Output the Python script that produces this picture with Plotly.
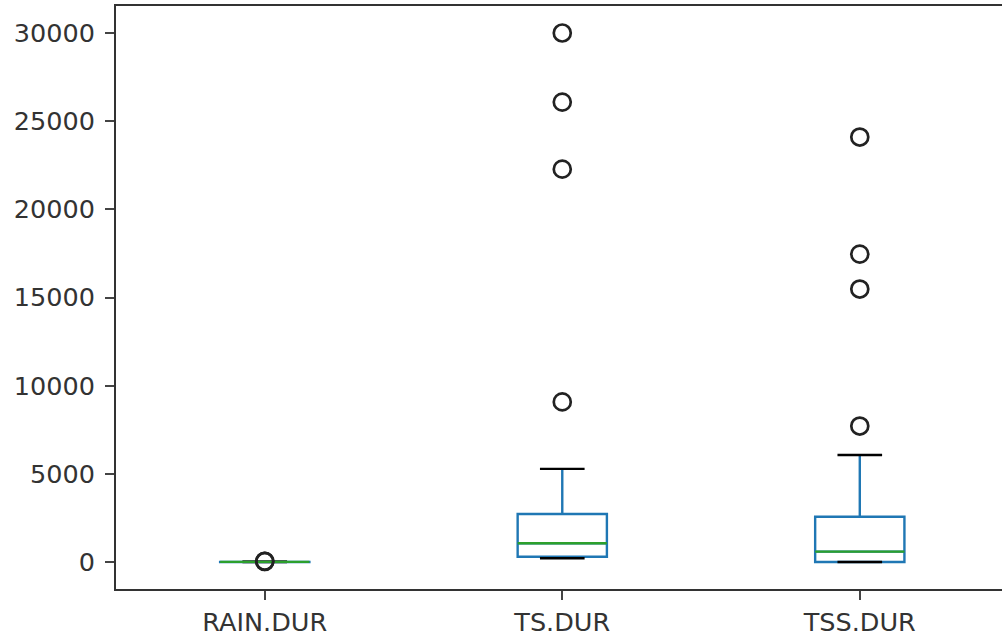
import plotly.graph_objects as go

# Box statistics for each duration column
columns = ["RAIN.DUR", "TS.DUR", "TSS.DUR"]
positions = [1, 2, 3]
q1 = [2, 300, 0]
median = [5, 1060, 590]
q3 = [8, 2720, 2570]
lower_whisker = [0, 210, 0]
upper_whisker = [15, 5280, 6070]
outliers = [
    [30, 40],
    [9080, 22280, 26080, 30000],
    [7710, 15480, 17460, 24100],
]

y_ticks = [0, 5000, 10000, 15000, 20000, 25000, 30000]

BOX_BLUE = "#1f77b4"
MEDIAN_GREEN = "#2ca02c"
BOX_WIDTH = 0.3
CAP_HALF = BOX_WIDTH / 4
LW = 2.4

fig = go.Figure()

for i, name in enumerate(columns):
    x = positions[i]
    fig.add_trace(go.Box(
        x=[x],
        q1=[q1[i]], median=[median[i]], q3=[q3[i]],
        lowerfence=[lower_whisker[i]], upperfence=[upper_whisker[i]],
        width=BOX_WIDTH,
        whiskerwidth=0,
        boxpoints=False,
        line=dict(color=BOX_BLUE, width=LW),
        fillcolor="rgba(0,0,0,0)",
        showlegend=False,
        name=name,
    ))
    # whisker caps
    for v in (lower_whisker[i], upper_whisker[i]):
        fig.add_trace(go.Scatter(
            x=[x - CAP_HALF, x + CAP_HALF], y=[v, v],
            mode="lines", line=dict(color="black", width=LW),
            showlegend=False, hoverinfo="skip",
        ))
    # median line
    fig.add_trace(go.Scatter(
        x=[x - BOX_WIDTH / 2, x + BOX_WIDTH / 2], y=[median[i], median[i]],
        mode="lines", line=dict(color=MEDIAN_GREEN, width=LW),
        showlegend=False, hoverinfo="skip",
    ))
    # fliers
    fig.add_trace(go.Scatter(
        x=[x] * len(outliers[i]), y=outliers[i],
        mode="markers",
        marker=dict(symbol="circle-open", size=17, color="#222",
                    line=dict(width=2.7, color="#222")),
        showlegend=False,
    ))

axis_font = dict(family="DejaVu Sans", size=25.5, color="#333333")

fig.update_layout(
    width=1002, height=636,
    margin=dict(l=116, r=0, t=6, b=47),
    plot_bgcolor="white", paper_bgcolor="white",
    xaxis=dict(
        range=[0.5, 3.478],
        tickvals=positions, ticktext=columns,
        showgrid=False, zeroline=False,
        showline=True, linecolor="#333", linewidth=2, mirror=True,
        ticks="outside", ticklen=9, tickwidth=2, tickcolor="#444",
        tickfont=axis_font, ticklabelstandoff=0,
    ),
    yaxis=dict(
        range=[-1531, 31531],
        tickvals=y_ticks, tickformat="d",
        showgrid=False, zeroline=False,
        showline=True, linecolor="#333", linewidth=2, mirror=False,
        ticks="outside", ticklen=9, tickwidth=2, tickcolor="#444",
        tickfont=axis_font, ticklabelstandoff=5,
    ),
)

fig.write_html("out.html")
